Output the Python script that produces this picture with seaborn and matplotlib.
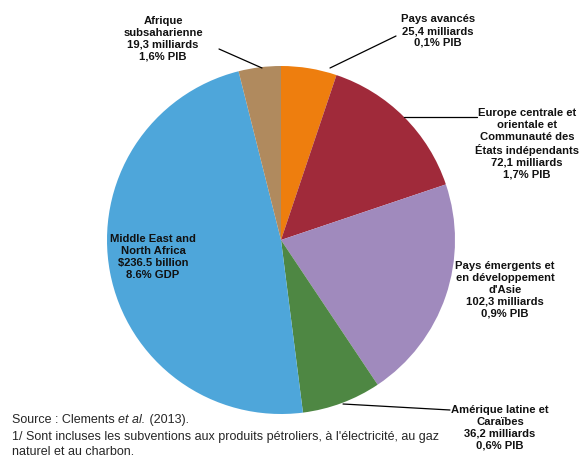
import matplotlib
matplotlib.use("Agg")
import matplotlib.pyplot as plt
import seaborn as sns

regions = ["Pays avancés", "Europe centrale et orientale et Communauté des États indépendants",
           "Pays émergents et en développement d'Asie", "Amérique latine et Caraïbes",
           "Middle East and North Africa", "Afrique subsaharienne"]
values = [25.4, 72.1, 102.3, 36.2, 236.5, 19.3]
colors = ["#EE7E0E", "#A02A3A", "#A08ABD", "#4E8743", "#4EA6DA", "#B08A5E"]
labels = [
    "Pays avancés\n25,4 milliards\n0,1% PIB",
    "Europe centrale et\norientale et\nCommunauté des\nÉtats indépendants\n72,1 milliards\n1,7% PIB",
    "Pays émergents et\nen développement\nd'Asie\n102,3 milliards\n0,9% PIB",
    "Amérique latine et\nCaraïbes\n36,2 milliards\n0,6% PIB",
    "Middle East and\nNorth Africa\n$236.5 billion\n8.6% GDP",
    "Afrique\nsubsaharienne\n19,3 milliards\n1,6% PIB",
]

sns.set_theme(style="white")
plt.rcParams['font.family'] = ['Liberation Sans', 'DejaVu Sans']

W, H = 581, 455
fig = plt.figure(figsize=(W / 100, H / 100), dpi=100)
ax = fig.add_axes([0, 0, 1, 1])

cx, cy, r = 281, 240, 174
ax.pie(values, colors=colors, startangle=-90, counterclock=True,
       center=(cx, cy), radius=r, wedgeprops=dict(linewidth=0), frame=True)
ax.set_xlim(0, W)
ax.set_ylim(H, 0)
ax.set_aspect('equal')
ax.axis('off')

# label positions (center of text block)
pos = [(438, 31), (527, 144), (505, 290), (500, 428), (153, 257), (163, 39)]
for (x, y), lab in zip(pos, labels):
    ax.text(x, y, lab, ha='center', va='center', fontsize=8.1, fontweight='bold',
            linespacing=1.22, color='#111111', multialignment='center')

# leader lines
lines = [((330, 68), (396, 36)), ((404, 117), (477, 117)),
         ((343, 404), (450, 410)), ((262, 68), (219, 49))]
for (x0, y0), (x1, y1) in lines:
    ax.plot([x0, x1], [y0, y1], color='black', lw=0.9)

fs = 9
t1 = ax.text(12, 420, "Source : Clements ", fontsize=fs, va='center', ha='left')
t2 = ax.annotate("et al.", xy=(1, 0), xycoords=t1, va='bottom', ha='left',
                 fontsize=fs, fontstyle='italic')
ax.annotate(" (2013).", xy=(1, 0), xycoords=t2, va='bottom', ha='left', fontsize=fs)
ax.text(12, 437, "1/ Sont incluses les subventions aux produits pétroliers, à l'électricité, au gaz",
        fontsize=fs, va='center', ha='left')
ax.text(12, 452, "naturel et au charbon.", fontsize=fs, va='center', ha='left')

fig.savefig("out.png", dpi=100)
